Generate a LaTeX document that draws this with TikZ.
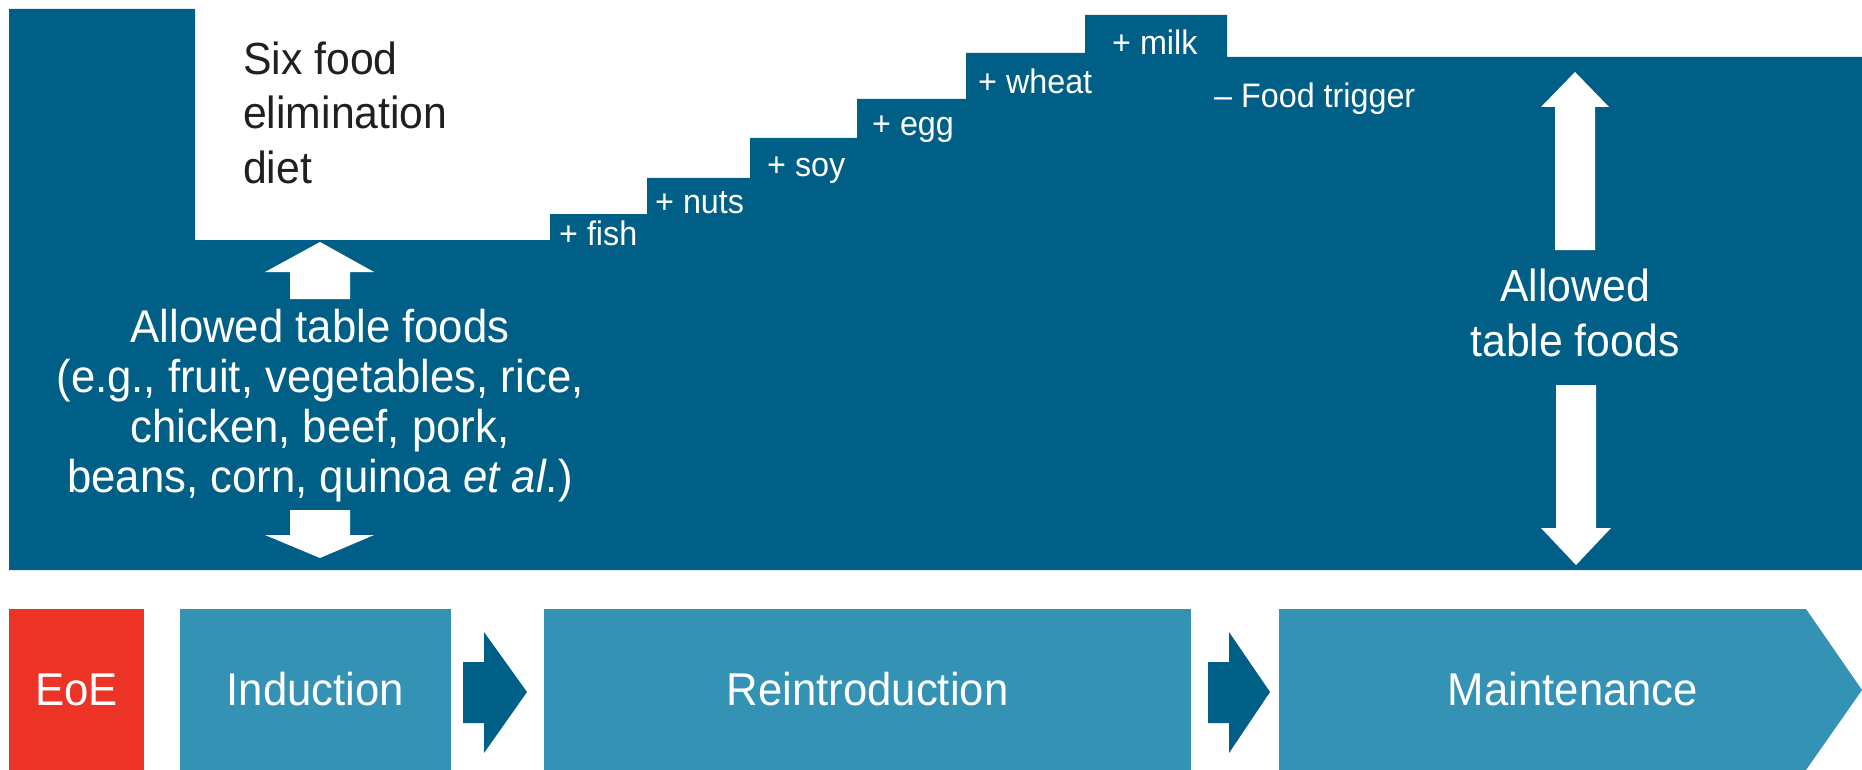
\documentclass[tikz,border=0pt]{standalone}
\usepackage{fontspec}
\setmainfont{Liberation Sans}[FakeStretch=0.95]
\definecolor{darkblu}{RGB}{0,95,135}
\definecolor{lightblu}{RGB}{52,146,180}
\definecolor{eoered}{RGB}{236,52,38}
\definecolor{darktext}{RGB}{35,31,32}
\begin{document}
\begin{tikzpicture}[x=1pt,y=-1pt,
  bigtext/.style={text=white,inner sep=0pt,font=\fontsize{46}{50}\selectfont},
  steplabel/.style={text=white,inner sep=0pt,anchor=base west,font=\fontsize{34}{40}\selectfont},
  blockarrow/.style={fill=white},
  phase/.style={inner sep=0pt,text=white,font=\fontsize{46}{50}\selectfont},
  chevron/.style={fill=darkblu}]
\useasboundingbox (0,0) rectangle (1862,770);
% dark staircase area
\fill[darkblu] (9,9) -- (195,9) -- (195,240) -- (550,240) -- (550,214) -- (647,214)
  -- (647,178) -- (750,178) -- (750,138) -- (857,138) -- (857,99) -- (966,99)
  -- (966,53) -- (1085,53) -- (1085,15) -- (1227,15) -- (1227,57) -- (1862,57)
  -- (1862,570) -- (9,570) -- cycle;
% title (anchor base = baseline of last line)
\node[inner sep=0pt,anchor=base west,align=left,text=darktext,
      font=\fontsize{45}{54}\selectfont] (six) at (243,183) {Six food\\elimination\\diet};
% step labels
\node[steplabel] (fish) at (559,245) {+ fish};
\node[steplabel] (nuts) at (655,214) {+ nuts};
\node[steplabel] (soy) at (767,177) {+ soy};
\node[steplabel] (egg) at (872,136) {+ egg};
\node[steplabel] (wheat) at (978,94) {+ wheat};
\node[steplabel] (milk) at (1112,55) {+ milk};
\node[steplabel] (trigger) at (1214,108) {– Food trigger};
% left allowed foods
\node[bigtext,anchor=base,align=center] (leftfoods) at (320,492)
  {Allowed table foods\\(e.g., fruit, vegetables, rice,\\chicken, beef, pork,\\beans, corn, quinoa \textit{et al}.)};
\fill[blockarrow] (320,242) -- (374,272) -- (350,272) -- (350,299) -- (290,299) -- (290,272) -- (265,272) -- cycle;
\fill[blockarrow] (320,558) -- (374,535) -- (350,535) -- (350,510) -- (290,510) -- (290,535) -- (265,535) -- cycle;
% right allowed foods
\node[bigtext,anchor=base,align=center,font=\fontsize{45}{55}\selectfont] (rightfoods) at (1575,356)
  {Allowed\\table foods};
\fill[blockarrow] (1575,72) -- (1609,107) -- (1595,107) -- (1595,250) -- (1555,250) -- (1555,107) -- (1541,107) -- cycle;
\fill[blockarrow] (1576,565) -- (1611,528) -- (1596,528) -- (1596,385) -- (1556,385) -- (1556,528) -- (1541,528) -- cycle;
% phases
\fill[eoered] (9,609) rectangle (144,770);
\node[phase,anchor=base] (eoe) at (76.5,705) {EoE};
\fill[lightblu] (180,609) rectangle (451,770);
\node[phase,anchor=base] (induction) at (315.5,705) {Induction};
\fill[chevron] (463,662) -- (484,662) -- (484,632) -- (527,692) -- (484,753) -- (484,723) -- (463,723) -- cycle;
\fill[lightblu] (544,609) rectangle (1191,770);
\node[phase,anchor=base] (reintro) at (867.5,705) {Reintroduction};
\fill[chevron] (1208,662) -- (1229,662) -- (1229,632) -- (1270,692) -- (1229,753) -- (1229,723) -- (1208,723) -- cycle;
\fill[lightblu] (1279,609) -- (1806,609) -- (1862,690) -- (1806,770) -- (1279,770) -- cycle;
\node[phase,anchor=base] (maint) at (1573,705) {Maintenance};
\end{tikzpicture}
\end{document}
